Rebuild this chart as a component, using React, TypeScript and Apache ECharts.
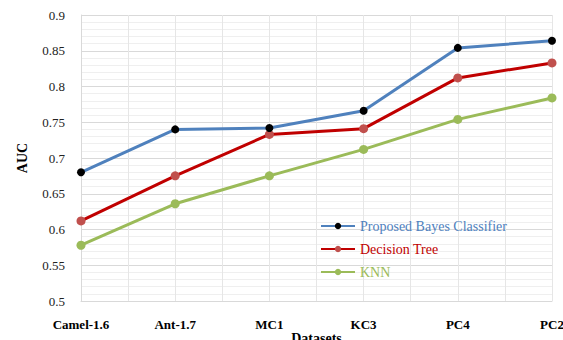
import React, { useEffect, useRef } from "react";
import * as echarts from "echarts";

const categories = ["Camel-1.6", "Ant-1.7", "MC1", "KC3", "PC4", "PC2"];
const bayes = [0.68, 0.74, 0.742, 0.766, 0.854, 0.864];
const tree = [0.612, 0.675, 0.733, 0.741, 0.812, 0.833];
const knn = [0.578, 0.636, 0.675, 0.712, 0.754, 0.784];
const seriesNames = ["Proposed Bayes Classifier", "Decision Tree", "KNN"];

const FONT = "Liberation Serif, serif";

export default function App() {
  const ref = useRef<HTMLDivElement>(null);
  useEffect(() => {
    if (!ref.current) return;
    const chart = echarts.init(ref.current, undefined, { renderer: "svg" });
    chart.setOption({
      animation: false,
      textStyle: { fontFamily: FONT },
      grid: { left: 81, right: 11, top: 15, bottom: 39, outerBoundsMode: "none", containLabel: false },
      legend: {
        orient: "vertical",
        left: 315,
        top: 214,
        itemWidth: 34,
        itemHeight: 8,
        itemGap: 9,
        textStyle: { fontFamily: FONT, fontSize: 14 },
        data: [
          { name: seriesNames[0], textStyle: { color: "#4F81BD" } },
          { name: seriesNames[1], textStyle: { color: "#C00000" } },
          { name: seriesNames[2], textStyle: { color: "#9BBB59" } },
        ],
      },
      xAxis: [
        {
          type: "category",
          data: categories,
          boundaryGap: false,
          name: "Datasets",
          nameLocation: "middle",
          nameGap: 30,
          nameMoveOverlap: false,
          nameTextStyle: { fontFamily: FONT, fontSize: 14, fontWeight: "bold", color: "#000", verticalAlign: "top" },
          axisLine: { lineStyle: { color: "#d9d9d9" } },
          axisTick: { show: false },
          axisLabel: { fontFamily: FONT, fontSize: 13, fontWeight: "bold", color: "#000", margin: 17 },
          splitLine: { show: false },
        },
        {
          type: "value",
          min: 0,
          max: 10,
          interval: 1,
          show: true,
          position: "bottom",
          axisLine: { show: false },
          axisTick: { show: false },
          axisLabel: { show: false },
          splitLine: { show: true, lineStyle: { color: "#e6e6e6", width: 1 } },
        },
      ],
      yAxis: {
        type: "value",
        min: 0.5,
        max: 0.9,
        interval: 0.05,
        name: "AUC",
        nameLocation: "middle",
        nameGap: 52,
        nameMoveOverlap: false,
        nameTextStyle: { fontFamily: FONT, fontSize: 14, fontWeight: "bold", color: "#000" },
        axisLine: { show: true, lineStyle: { color: "#d9d9d9" } },
        axisTick: { show: false },
        axisLabel: {
          fontFamily: FONT,
          fontSize: 13,
          color: "#222",
          margin: 16,
          formatter: (v: number) => String(Math.round(v * 100) / 100),
        },
        splitLine: { show: true, lineStyle: { color: "#d9d9d9" } },
        minorTick: { show: false, splitNumber: 5 },
        minorSplitLine: { show: true, lineStyle: { color: "#efefef" } },
      },
      series: [
        {
          name: seriesNames[0],
          type: "line",
          data: bayes,
          symbol: "circle",
          symbolSize: 8,
          lineStyle: { color: "#4F81BD", width: 3 },
          itemStyle: { color: "#000000" },
          z: 5,
        },
        {
          name: seriesNames[1],
          type: "line",
          data: tree,
          symbol: "circle",
          symbolSize: 9,
          lineStyle: { color: "#C00000", width: 3 },
          itemStyle: { color: "#C0504D" },
          z: 4,
        },
        {
          name: seriesNames[2],
          type: "line",
          data: knn,
          symbol: "circle",
          symbolSize: 9,
          lineStyle: { color: "#9BBB59", width: 3 },
          itemStyle: { color: "#9BBB59" },
          z: 3,
        },
      ],
    });
    return () => chart.dispose();
  }, []);
  return <div ref={ref} style={{ width: 563, height: 340, position: "absolute", left: 0, top: 0 }} />;
}
